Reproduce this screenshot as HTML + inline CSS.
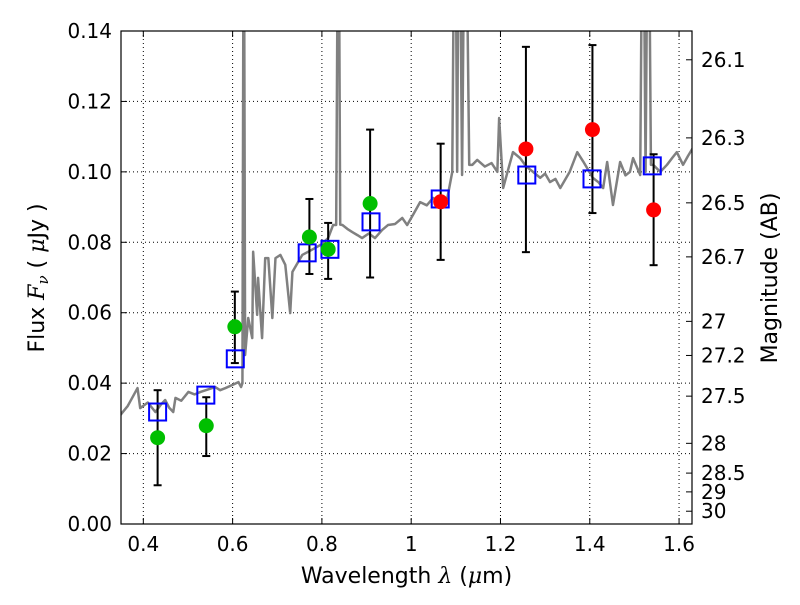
<!DOCTYPE html>
<html><head><meta charset="utf-8"><style>
body{margin:0;background:#fff;}
svg text{font-family:"DejaVu Sans","Liberation Sans",sans-serif;}
</style></head><body>
<svg id="chart" width="800" height="600" xmlns="http://www.w3.org/2000/svg">
<g id="grid"></g>
<g id="plot"></g>
<g id="axes"></g>
</svg>
<script>
const specLam=[0.349,0.365,0.387,0.393,0.410,0.427,0.440,0.449,0.458,0.467,0.472,0.485,0.501,0.515,0.528,0.545,0.561,0.572,0.584,0.600,0.613,0.619,0.622,0.625,0.628,0.635,0.644,0.646,0.655,0.657,0.666,0.673,0.680,0.689,0.696,0.707,0.718,0.729,0.734,0.745,0.756,0.769,0.785,0.800,0.814,0.825,0.832,0.837,0.841,0.846,0.857,0.868,0.880,0.890,0.905,0.919,0.935,0.948,0.964,0.980,0.991,1.005,1.020,1.035,1.049,1.065,1.081,1.092,1.098,1.103,1.107,1.114,1.121,1.130,1.137,1.148,1.165,1.180,1.193,1.197,1.206,1.218,1.228,1.244,1.258,1.273,1.289,1.300,1.311,1.323,1.334,1.355,1.372,1.385,1.394,1.407,1.420,1.430,1.439,1.452,1.468,1.480,1.490,1.497,1.513,1.519,1.525,1.531,1.537,1.542,1.558,1.573,1.585,1.595,1.609,1.620,1.631];
const specFlux=[0.0310,0.0335,0.0386,0.0329,0.0345,0.0318,0.0340,0.0352,0.0330,0.0318,0.0358,0.0350,0.0375,0.0368,0.0375,0.0382,0.0389,0.0380,0.0386,0.0395,0.0403,0.0389,0.040,0.2,0.048,0.0585,0.0528,0.0773,0.0594,0.0699,0.0528,0.0755,0.0755,0.0585,0.0755,0.0764,0.0736,0.0599,0.0716,0.0740,0.0764,0.0773,0.0784,0.0795,0.0812,0.0849,0.0849,0.2,0.085,0.0849,0.0838,0.0829,0.0820,0.0812,0.0825,0.0812,0.0835,0.0849,0.0852,0.0869,0.0849,0.0880,0.0914,0.0905,0.0926,0.0915,0.0926,0.1000,0.2,0.100,0.2,0.0991,0.2,0.102,0.1020,0.1034,0.1015,0.1025,0.1000,0.1153,0.0954,0.1010,0.1056,0.1039,0.1015,0.1000,0.0983,0.0995,0.0971,0.0980,0.0954,0.1000,0.1056,0.1030,0.1011,0.0983,0.0970,0.0954,0.1028,0.0906,0.1028,0.0990,0.1000,0.1039,0.0991,0.2,0.100,0.2,0.1020,0.1020,0.1000,0.1020,0.1040,0.1056,0.1020,0.1045,0.1068];
const greenLam=[0.432,0.541,0.605,0.772,0.814,0.908];
const greenFlux=[0.0245,0.0279,0.056,0.0815,0.078,0.091];
const greenHi=[0.038,0.036,0.066,0.0923,0.0855,0.112];
const greenLo=[0.011,0.0193,0.0457,0.071,0.0696,0.070];
const redLam=[1.066,1.257,1.406,1.543];
const redFlux=[0.0915,0.1065,0.112,0.0892];
const redHi=[0.108,0.1355,0.136,0.105];
const redLo=[0.075,0.0772,0.0883,0.0735];
const boxLam=[0.432,0.540,0.606,0.767,0.818,0.910,1.065,1.259,1.405,1.540];
const boxFlux=[0.0318,0.0366,0.0469,0.077,0.078,0.0858,0.0923,0.0991,0.098,0.1017];
const xTicks=[0.4,0.6,0.8,1.0,1.2,1.4,1.6];
const xTickLabels=["0.4","0.6","0.8","1","1.2","1.4","1.6"];
const yTicks=[0,0.02,0.04,0.06,0.08,0.10,0.12,0.14];
const yTickLabels=["0.00","0.02","0.04","0.06","0.08","0.10","0.12","0.14"];
const magTicks=[26.1,26.3,26.5,26.7,27,27.2,27.5,28,28.5,29,30];
const magLabels=["26.1","26.3","26.5","26.7","27","27.2","27.5","28","28.5","29","30"];

const L=121,R=692,T=31,B=524,x0=0.35,x1=1.629,ymax=0.14;
const X=v=>L+(v-x0)/(x1-x0)*(R-L);
const Y=v=>B-v/ymax*(B-T);
const NS="http://www.w3.org/2000/svg";
function mk(tag,attrs,parent){const e=document.createElementNS(NS,tag);for(const k in attrs)e.setAttribute(k,attrs[k]);parent.appendChild(e);return e;}
const grid=document.getElementById('grid'),plot=document.getElementById('plot'),axes=document.getElementById('axes');
mk('defs',{},plot).innerHTML='<clipPath id="clip"><rect x="'+L+'" y="'+T+'" width="'+(R-L)+'" height="'+(B-T)+'"/></clipPath>';
xTicks.forEach((t,i)=>{
  const gl=mk('line',{x1:X(t),x2:X(t),y1:T,y2:B,stroke:'#000','stroke-width':1,'stroke-dasharray':'1,3'},grid);
  
  
  mk('line',{x1:X(t),x2:X(t),y1:B,y2:B-6,stroke:'#000'},axes);
  mk('line',{x1:X(t),x2:X(t),y1:T,y2:T+6,stroke:'#000'},axes);
  const tx=mk('text',{x:X(t),y:B+27,'text-anchor':'middle','font-size':20},axes);
  tx.textContent=xTickLabels[i];
  
  
});
yTicks.forEach((t,i)=>{
  const gl=mk('line',{x1:L,x2:R,y1:Y(t),y2:Y(t),stroke:'#000','stroke-width':1,'stroke-dasharray':'1,3'},grid);
  
  
  mk('line',{x1:L,x2:L+6,y1:Y(t),y2:Y(t),stroke:'#000'},axes);
  const tx=mk('text',{x:L-9,y:Y(t)+7,'text-anchor':'end','font-size':20},axes);
  tx.textContent=yTickLabels[i];
  
  
});
magTicks.forEach((m,i)=>{
  const f=Math.pow(10,(23.9-m)/2.5);const y=Y(f);
  mk('line',{x1:R-6,x2:R,y1:y,y2:y,stroke:'#000'},axes);
  const tx=mk('text',{x:R+9,y:y+7,'font-size':20},axes);
  tx.textContent=magLabels[i];
  
  
});
const g=mk('g',{'clip-path':'url(#clip)'},plot);
const sp=mk('polyline',{points:specLam.map((l,i)=>X(l)+','+Y(specFlux[i])).join(' '),fill:'none',stroke:'#808080','stroke-width':2.5,'stroke-linejoin':'round'},g);


function errbar(l,hi,lo){
  mk('line',{x1:X(l),x2:X(l),y1:Y(hi),y2:Y(lo),stroke:'#000','stroke-width':2},g);
  mk('line',{x1:X(l)-4,x2:X(l)+4,y1:Y(hi),y2:Y(hi),stroke:'#000','stroke-width':2},g);
  mk('line',{x1:X(l)-4,x2:X(l)+4,y1:Y(lo),y2:Y(lo),stroke:'#000','stroke-width':2},g);
}
greenLam.forEach((l,i)=>errbar(l,greenHi[i],greenLo[i]));
redLam.forEach((l,i)=>errbar(l,redHi[i],redLo[i]));
boxLam.forEach((l,i)=>{
  const r=mk('rect',{x:X(l)-8.5,y:Y(boxFlux[i])-8.5,width:17,height:17,fill:'none',stroke:'#0000ff','stroke-width':2},g);
  
  
});
greenLam.forEach((l,i)=>{
  const c=mk('circle',{cx:X(l),cy:Y(greenFlux[i]),r:7.5,fill:'#00bf00'},g);
  
  
});
redLam.forEach((l,i)=>{
  const c=mk('circle',{cx:X(l),cy:Y(redFlux[i]),r:7.5,fill:'#ff0000'},g);
  
  
});
const fr=mk('rect',{x:L,y:T,width:R-L,height:B-T,fill:'none',stroke:'#000','stroke-width':1.2},axes);


const xl=mk('text',{x:(L+R)/2,y:583,'text-anchor':'middle','font-size':22},axes);
xl.innerHTML='Wavelength  <tspan font-style="italic" font-family="DejaVu Serif,serif">λ</tspan> (<tspan font-style="italic" font-family="DejaVu Serif,serif">μ</tspan>m)';


const yl=mk('text',{transform:'translate(44,278) rotate(-90)','text-anchor':'middle','font-size':22},axes);
yl.innerHTML='Flux  <tspan font-style="italic" font-family="DejaVu Serif,serif">F<tspan font-size="15" dy="4">ν</tspan></tspan><tspan dy="-4">  ( </tspan><tspan font-style="italic" font-family="DejaVu Serif,serif">μ</tspan>Jy )';


const rl=mk('text',{transform:'translate(777,278) rotate(-90)','text-anchor':'middle','font-size':22},axes);
rl.textContent='Magnitude (AB)';


</script>
</body></html>
